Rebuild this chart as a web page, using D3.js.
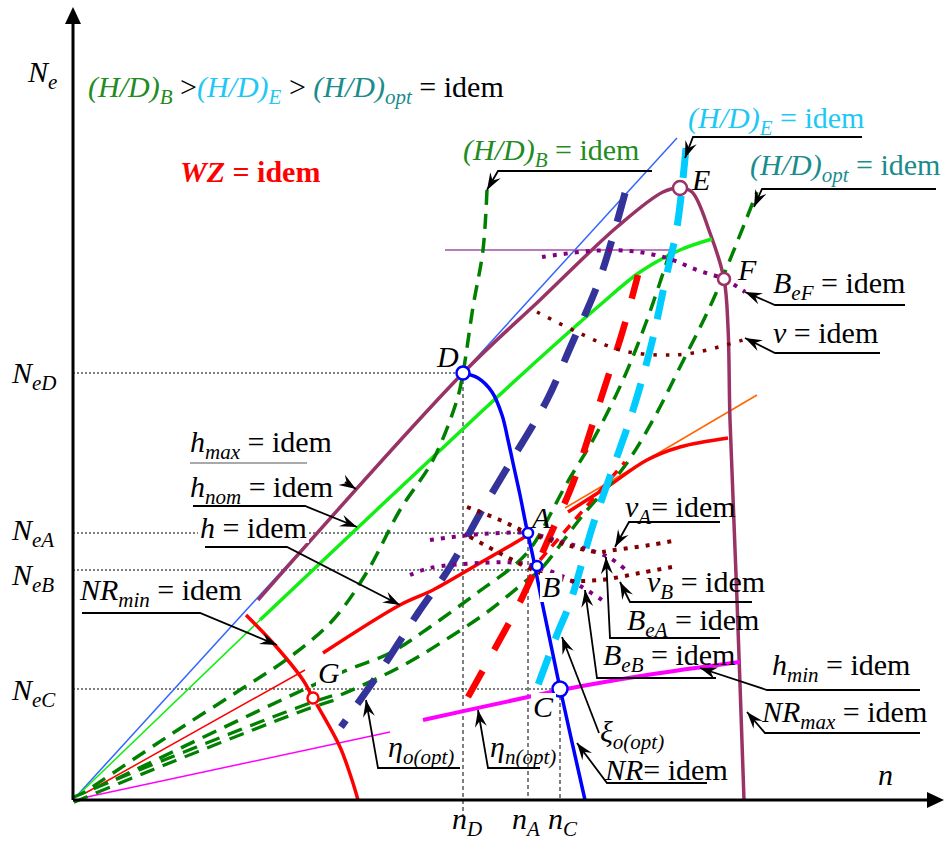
<!DOCTYPE html>
<html lang="en">
<head>
<meta charset="utf-8">
<title>Ne - n operating diagram</title>
<script src="https://cdn.jsdelivr.net/npm/d3@7"></script>
<style>
  body { margin: 0; background: #fff; }
  svg text { font-family: "Liberation Serif", "DejaVu Serif", serif; }
</style>
</head>
<body>
<script>
// units: n along x, Ne along y (arbitrary)
var hMaxCurve = [[185,200],[390,427],[467,500],[544,573],[590,608],[607,612],[619,608],[637,567],[651,521],[655,473],[657,380],[664,200],[671,0]];
var tangentLine = [[0,0],[604,662]];
var hNomThin = [[0,0],[187,180]];
var hNomCurve = [[187,180],[407,387],[487,460],[527,495],[567,528],[607,550],[639,561]];
var hThin = [[0,0],[232,130]];
var hCurve = [[250,147],[327,195],[360,210],[407,237],[450,262],[457,267]];
var hCurveRight = [[495,288],[534,313],[574,340],[607,353],[655,362]];
var hTangent = [[492,292],[684,405]];
var hMinThin = [[0,0],[317,68]];
var hMinCurve = [[350,80],[455,103],[488,110],[574,125],[667,138]];
var nrMinCurve = [[173,185],[200,157],[230,120],[240,102],[247,90],[267,53],[279,20],[285,0]];
var nrCurve = [[390,427],[405,422],[419,408],[429,385],[435,360],[440,337],[447,305],[454,270],[460,243],[469,198],[487,112],[512,0]];
var etaOpt = [[552,607],[527,522],[497,452],[474,400],[437,337],[409,290],[377,233],[345,187],[308,130],[268,73]];
var etaNOpt = [[395,103],[420,148],[447,198],[475,260],[500,317],[520,377],[534,420],[550,470],[565,525]];
var wzThin = [[467,240],[552,338]];
var hdE = [[613,652],[604,573],[592,518],[579,458],[560,390],[540,332],[520,275],[497,197],[485,168],[465,115]];
var hdB = [[0,0],[100,67],[167,110],[217,143],[260,180],[294,228],[327,290],[360,340],[384,400],[390,427],[400,493],[410,550],[414,610]];
var hdMid = [[0,0],[267,127],[317,147],[357,173],[404,207],[444,237],[460,255],[494,317],[520,360],[550,420],[574,480],[597,548]];
var hdOpt = [[0,0],[80,33],[233,93],[260,102],[327,133],[377,163],[417,190],[454,220],[467,230],[510,285],[551,333],[580,380],[607,433],[640,500],[684,608]];
var bEF = [[469,543],[517,549],[557,549],[594,542],[624,530],[651,521],[672,508]];
var vTop = [[464,488],[504,468],[547,450],[587,445],[620,447],[670,460]];
var bEA = [[357,260],[397,265],[427,267],[455,267],[482,260],[510,252],[537,242],[555,228]];
var bEB = [[337,225],[357,232],[407,237],[447,237],[464,233],[487,225],[509,213],[532,198]];
var vA = [[394,293],[427,280],[455,267],[494,255],[524,248],[541,250],[577,255],[605,260]];
var vB = [[397,263],[434,243],[460,230],[492,220],[527,220],[567,227],[599,233]];
var bHoriz = [[372,550],[597,550]];

var keyPoints = [
  {id:"D", n:390, Ne:427, r:6.5, c:"#0000ff"},
  {id:"A", n:455, Ne:267, r:5, c:"#0000ff"},
  {id:"B", n:464, Ne:234, r:5, c:"#0000ff"},
  {id:"C", n:487, Ne:111, r:7.5, c:"#0000ff"},
  {id:"E", n:607, Ne:612, r:7, c:"#993366"},
  {id:"F", n:651, Ne:521, r:6, c:"#993366"},
  {id:"G", n:240, Ne:102, r:5.5, c:"#ff0000"}
];
var refH = [[427,390],[267,455],[230,455],[111,487]];
var refV = [[390,427,-15],[455,267,0],[487,111,0]];

var leaders = [
  [[579,629],[425,629],[414,610]],
  [[789,663],[620,663],[612,642]],
  [[863,611],[689,611],[681,593]],
  [[832,495],[702,495],[672,508]],
  [[807,447],[702,447],[672,462]],
  [[272,318],[283,311]],
  [[120,294],[232,294],[284,273]],
  [[132,253],[214,253],[327,195]],
  [[9,187],[127,187],[204,155]],
  [[647,278],[556,278],[542,253]],
  [[679,198],[557,198],[547,218]],
  [[647,162],[537,162],[533,243]],
  [[643,122],[524,122],[512,210]],
  [[847,110],[694,110],[627,132]],
  [[847,67],[692,67],[674,88]],
  [[526,67],[489,163]],
  [[634,17],[534,17],[504,57]],
  [[387,32],[305,32],[293,100]],
  [[467,32],[415,32],[405,90]]
];
var plainUnderlines = [[[117,337],[234,337]]];

var GR = "#228b22", CY = "#1ec8f5", TE = "#1a8c8c", RD = "#ff0000";
var labels = [
  {n:-45, Ne:718, parts:[["N","i"],["e","s"]]},
  {n:-61, Ne:417, parts:[["N","i"],["eD","s"]]},
  {n:-61, Ne:260, parts:[["N","i"],["eA","s"]]},
  {n:-61, Ne:215, parts:[["N","i"],["eB","s"]]},
  {n:-61, Ne:100, parts:[["N","i"],["eC","s"]]},
  {n:805, Ne:15, parts:[["n","i"]]},
  {n:379, Ne:-29, parts:[["n","i"],["D","s"]]},
  {n:439, Ne:-29, parts:[["n","i"],["A","s"]]},
  {n:475, Ne:-29, parts:[["n","i"],["C","s"]]},
  {n:15, Ne:703, parts:[["(H/D)","i",GR],["B","s",GR],[" >","r"],["(H/D)","i",CY],["E","s",CY],[" > ","r"],["(H/D)","i",TE],["opt","s",TE],[" = idem","r"]]},
  {n:107, Ne:618, parts:[["WZ","bi",RD],[" = idem","b",RD]]},
  {n:390, Ne:640, parts:[["(H/D)","i",GR],["B","s",GR],[" = idem","r",GR]]},
  {n:615, Ne:672, parts:[["(H/D)","i",CY],["E","s",CY],[" = idem","r",CY]]},
  {n:677, Ne:625, parts:[["(H/D)","i",TE],["opt","s",TE],[" = idem","r",TE]]},
  {n:619, Ne:610, parts:[["E","i"]]},
  {n:665, Ne:520, parts:[["F","i"]]},
  {n:364, Ne:433, parts:[["D","i"]]},
  {n:459, Ne:272, parts:[["A","i"]]},
  {n:469, Ne:203, parts:[["B","i"]], bg:true},
  {n:460, Ne:83, parts:[["C","i"]], bg:true},
  {n:245, Ne:117, parts:[["G","i"]], bg:true},
  {n:700, Ne:507, parts:[["B","i"],["eF","s"],[" = idem","r"]]},
  {n:700, Ne:457, parts:[["v","i"],[" = idem","r"]]},
  {n:117, Ne:348, parts:[["h","i"],["max","s"],[" = idem","r"]]},
  {n:117, Ne:303, parts:[["h","i"],["nom","s"],[" = idem","r"]]},
  {n:127, Ne:262, parts:[["h","i"],[" = idem","r"]], bg:true},
  {n:7, Ne:200, parts:[["NR","i"],["min","s"],[" = idem","r"]]},
  {n:552, Ne:283, parts:[["v","i"],["A","s"],["= idem","r"]]},
  {n:574, Ne:208, parts:[["v","i"],["B","s"],[" = idem","r"]]},
  {n:554, Ne:170, parts:[["B","i"],["eA","s"],[" = idem","r"]]},
  {n:530, Ne:135, parts:[["B","i"],["eB","s"],[" = idem","r"]]},
  {n:699, Ne:125, parts:[["h","i"],["min","s"],[" = idem","r"]]},
  {n:689, Ne:78, parts:[["NR","i"],["max","s"],[" = idem","r"]]},
  {n:527, Ne:58, parts:[["\u03be","i"],["o(opt)","s"]]},
  {n:532, Ne:20, parts:[["NR","i"],["= idem","r"]]},
  {n:315, Ne:43, parts:[["\u03b7","i"],["o(opt)","s"]]},
  {n:417, Ne:43, parts:[["\u03b7","i"],["n(opt)","s"]]}
];

var w = 951, h = 845;
var x = d3.scaleLinear().domain([0, 870]).range([73, 943]);
var y = d3.scaleLinear().domain([0, 790]).range([800, 10]);

var svg = d3.select("body").append("svg").attr("width", w).attr("height", h);
var defs = svg.append("defs");
defs.append("marker").attr("id", "tip")
    .attr("markerUnits", "userSpaceOnUse")
    .attr("viewBox", "-18 -7 20 14")
    .attr("markerWidth", 20).attr("markerHeight", 14)
    .attr("refX", 0).attr("refY", 0).attr("orient", "auto")
  .append("path").attr("d", "M0,0 L-17,-6 L-11,0 L-17,6 Z").attr("fill", "#000");

var straight = d3.line().x(function(d) { return x(d[0]); }).y(function(d) { return y(d[1]); });
var smooth = d3.line().x(function(d) { return x(d[0]); }).y(function(d) { return y(d[1]); })
    .curve(d3.curveCatmullRom.alpha(0.5));

function draw(data, gen, color, width, dash) {
  var p = svg.append("path").attr("d", gen(data)).attr("fill", "none")
      .attr("stroke", color).attr("stroke-width", width);
  if (dash) p.attr("stroke-dasharray", dash);
  return p;
}

// reference lines
refH.forEach(function(r) {
  svg.append("line").attr("x1", x(0)).attr("x2", x(r[1])).attr("y1", y(r[0])).attr("y2", y(r[0]))
     .attr("stroke", "#000").attr("stroke-width", 1).attr("stroke-dasharray", "2,2");
});
refV.forEach(function(r) {
  svg.append("line").attr("x1", x(r[0])).attr("x2", x(r[0])).attr("y1", y(r[1])).attr("y2", y(r[2]))
     .attr("stroke", "#000").attr("stroke-width", 1).attr("stroke-dasharray", "4,3");
});

// thin rays from origin
draw(tangentLine, straight, "#3366ff", 1.5);
draw(hNomThin, straight, "#11ee11", 1.5);
draw(hThin, straight, RD, 1.5);
draw(hMinThin, straight, "#ff00ff", 1.5);
draw(hTangent, straight, "#ff6600", 1.5);
draw(bHoriz, straight, "#a050a8", 1.3);

// solid curves
draw(hMaxCurve, smooth, "#993366", 3.5);
draw(hNomCurve, smooth, "#11ee11", 3.5);
draw(hCurve, smooth, RD, 3.5);
draw(hCurveRight, smooth, RD, 3.5);
draw(hMinCurve, smooth, "#ff00ff", 4);
draw(nrMinCurve, smooth, RD, 3.5);

// H/D lines
draw(hdB, smooth, "#008000", 3.5, "15,9");
draw(hdMid, smooth, "#008000", 3.5, "15,9");
draw(hdOpt, smooth, "#008000", 3.5, "15,9");
draw(hdOpt.slice(0, 4), smooth, "#008000", 8, "15,9");
draw(hdOpt.slice(0, 4), smooth, "#fff", 1.6);

// efficiency lines
draw(wzThin, straight, RD, 3.5, "10,8");
draw(etaNOpt, smooth, RD, 6.5, "30,24");
draw(etaOpt, smooth, "#333399", 7, "30,20");
draw(hdE, smooth, "#00ccff", 7, "30,18");
draw(nrCurve, smooth, "#0000ff", 3.5);

// dotted iso-lines
draw(bEF, smooth, "#800080", 4, "4,7");
draw(vTop, smooth, "#800000", 3.5, "3.5,9");
draw(bEA, smooth, "#800080", 4, "4,7");
draw(bEB, smooth, "#800080", 4, "4,7");
draw(vA, smooth, "#800000", 4, "4,7");
draw(vB, smooth, "#800000", 4, "4,7");

// axes
svg.append("line").attr("x1", x(0)).attr("x2", x(0)).attr("y1", y(0)).attr("y2", 20)
   .attr("stroke", "#000").attr("stroke-width", 3);
svg.append("line").attr("x1", x(0)).attr("x2", 930).attr("y1", y(0)).attr("y2", y(0))
   .attr("stroke", "#000").attr("stroke-width", 3);
svg.append("path").attr("d", "M" + x(0) + ",7 L" + (x(0) - 8) + ",24 L" + (x(0) + 8) + ",24 Z").attr("fill", "#000");
svg.append("path").attr("d", "M944," + y(0) + " L927," + (y(0) - 8) + " L927," + (y(0) + 8) + " Z").attr("fill", "#000");

// key points
svg.selectAll("circle.key").data(keyPoints).enter().append("circle")
   .attr("cx", function(d) { return x(d.n); }).attr("cy", function(d) { return y(d.Ne); })
   .attr("r", function(d) { return d.r; })
   .attr("fill", "#fff").attr("stroke", function(d) { return d.c; }).attr("stroke-width", 2.5);

// leaders
plainUnderlines.forEach(function(u) {
  draw(u, straight, "#555", 1.2);
});
leaders.forEach(function(l) {
  var p = draw(l, straight, "#000", 1.8);
  p.attr("marker-end", "url(#tip)");
});

// labels
labels.forEach(function(d) {
  var g = svg.append("g");
  var t = g.append("text").attr("x", x(d.n)).attr("y", y(d.Ne))
      .attr("font-size", 30).attr("font-family", "'DejaVu Serif', serif")
      .attr("xml:space", "preserve");
  t.style("font-family", "\"Liberation Serif\", \"DejaVu Serif\", serif");
  var sub = false;
  d.parts.forEach(function(p) {
    var kind = p[1];
    var isSub = kind === "s";
    var ts = t.append("tspan").text(p[0]);
    if (isSub !== sub) ts.attr("dy", isSub ? 7 : -7);
    sub = isSub;
    if (isSub) ts.attr("font-size", 21);
    if (kind === "i" || kind === "s" || kind === "bi") ts.attr("font-style", "italic");
    if (kind === "b" || kind === "bi") ts.attr("font-weight", "bold");
    ts.attr("fill", p[2] || "#000");
  });
  if (d.bg) {
    var bb = t.node().getBBox();
    g.insert("rect", "text").attr("x", bb.x - 2).attr("y", bb.y + 3)
     .attr("width", bb.width + 4).attr("height", bb.height - 4).attr("fill", "#fff");
  }
});
</script>
</body>
</html>
